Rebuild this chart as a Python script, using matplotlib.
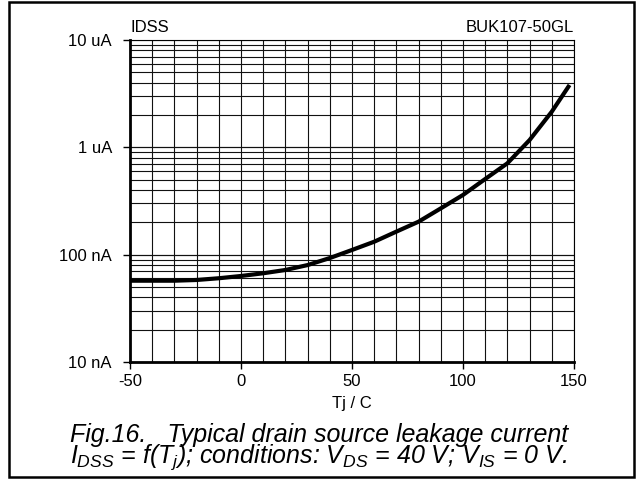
#!/usr/bin/env python3
"""IDSS vs junction temperature, BUK107-50GL datasheet style (Fig.16)."""

import matplotlib
matplotlib.use("Agg")
import matplotlib.pyplot as plt
from matplotlib.patches import Rectangle
from matplotlib.ticker import FixedLocator, LogLocator, NullFormatter

plt.rcParams["font.family"] = ["Liberation Sans", "DejaVu Sans"]
plt.rcParams["mathtext.fontset"] = "custom"
plt.rcParams["mathtext.rm"] = "Liberation Sans"
plt.rcParams["mathtext.it"] = "Liberation Sans:italic"

# junction temperature (C) and leakage current (A)
tj = [-50, -40, -30, -20, -10, 0, 10, 20, 30, 40, 50, 60, 70, 80, 90,
      100, 110, 120, 130, 140, 148]
idss = [57.2e-9, 57.2e-9, 57.2e-9, 58.1e-9, 60.3e-9, 63.3e-9, 67.1e-9,
        72.0e-9, 80.0e-9, 93.0e-9, 110.6e-9, 132e-9, 164e-9, 203e-9,
        270e-9, 360e-9, 507e-9, 710e-9, 1.17e-6, 2.15e-6, 3.81e-6]

x_ticks = [-50, 0, 50, 100, 150]
y_ticks = [1e-8, 1e-7, 1e-6, 1e-5]
y_labels = ["10 nA", "100 nA", "1 uA", "10 uA"]

W, H = 638, 479
fig = plt.figure(figsize=(W / 100, H / 100), dpi=100)
ax = fig.add_axes([130 / W, 1 - 362 / H, (574 - 130) / W, (362 - 40) / H])

ax.set_yscale("log")
ax.set_xlim(-50, 150)
ax.set_ylim(1e-8, 1e-5)

# grid: every 10 C, and 1..9 within each decade
for t in range(-40, 151, 10):
    ax.axvline(t, color="#111111", lw=0.8, zorder=1)
for dec in (1e-8, 1e-7, 1e-6):
    for m in range(1, 11):
        ax.axhline(dec * m, color="#111111", lw=0.8, zorder=1)

ax.plot(tj, idss, color="black", lw=3, solid_capstyle="butt", zorder=3)

ax.xaxis.set_major_locator(FixedLocator(x_ticks))
ax.set_xticklabels([str(v) for v in x_ticks])
ax.yaxis.set_major_locator(FixedLocator(y_ticks))
ax.set_yticklabels(y_labels)
ax.yaxis.set_minor_locator(LogLocator(subs=[]))
ax.yaxis.set_minor_formatter(NullFormatter())
ax.tick_params(axis="both", which="major", direction="out", length=5,
               width=1, labelsize=12, color="black")
ax.tick_params(axis="y", pad=8)
ax.tick_params(axis="x", pad=4)

for side in ("top", "right"):
    ax.spines[side].set_linewidth(0.8)
for side in ("left", "bottom"):
    ax.spines[side].set_linewidth(2)

ax.set_xlabel("Tj / C", fontsize=12, labelpad=5)

fig.text(130 / W, 1 - 28 / H, "IDSS", fontsize=12, ha="left", va="center")
fig.text(574 / W, 1 - 28 / H, "BUK107-50GL", fontsize=12, ha="right",
         va="center")

# two-line caption as one text block, lines set close like the datasheet
caption = ("Fig.16.   Typical drain source leakage current\n"
           r"$I_{DSS}$ = f($T_j$); conditions: $V_{DS}$ = 40 V; $V_{IS}$ = 0 V.")
fig.text(0.5, 1 - 423 / H, caption, fontsize=18, style="italic",
         ha="center", va="top", multialignment="center", linespacing=0.75)

# outer frame round the whole figure
fig.patches.append(Rectangle((9 / W, 1 - 477 / H), (634 - 9) / W,
                             (477 - 2) / H, transform=fig.transFigure,
                             fill=False, edgecolor="black", lw=1.8))

fig.savefig("out.png", dpi=100)
